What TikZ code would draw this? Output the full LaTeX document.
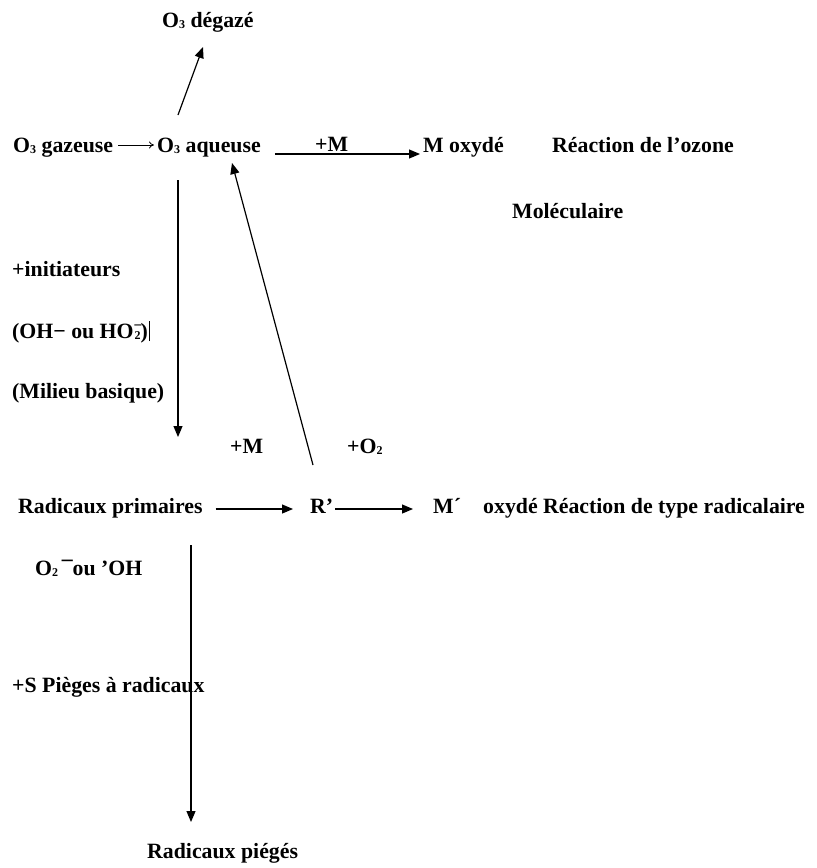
\documentclass[tikz,border=0pt]{standalone}
\usepackage{fontspec}
\setmainfont{Liberation Serif}
\usetikzlibrary{arrows.meta}
\newcommand\sbs[1]{\raisebox{-1.5pt}{\fontsize{12}{12}\selectfont #1}}
\begin{document}
\begin{tikzpicture}[x=1pt,y=-1pt,
  lbl/.style={inner sep=0pt,anchor=base west,font=\fontsize{21.8}{24}\selectfont\bfseries},
  arr/.style={line width=1.2pt,-{Triangle[length=11pt,width=9pt]}},
  thinarr/.style={line width=0.8pt,-{To[length=5pt,width=7pt]}}]
\useasboundingbox[fill=white] (0,0) rectangle (817,868);
% nodes
\node[lbl] (deg) at (162,27) {O\sbs{3} dégazé};
\node[lbl] (gaz) at (13,152) {O\sbs{3} gazeuse};
\node[lbl] (aq) at (157,152) {O\sbs{3} aqueuse};
\node[lbl] (pm1) at (315,151) {+M};
\node[lbl] (mox) at (423,152) {M oxydé};
\node[lbl] (roz) at (552,152) {Réaction de l'ozone};
\node[lbl] (mol) at (512,218) {Moléculaire};
\node[lbl] (init) at (12,276) {+initiateurs};
\node[lbl] (oh) at (12,338) {(OH− ou HO\rlap{\textsuperscript{−}}\sbs{\kern1pt 2})\hspace{1pt}\rule[-3pt]{0.9pt}{20pt}};
\node[lbl] (mil) at (12,398) {(Milieu basique)};
\node[lbl] (pm2) at (230,453) {+M};
\node[lbl] (po2) at (347,453) {+O\sbs{2}};
\node[lbl] (rp) at (18,513) {Radicaux primaires};
\node[lbl] (R) at (310,513) {R’};
\node[lbl] (mrad) at (433,513) {M´};
\node[lbl] (oxr) at (483,513) {oxydé Réaction de type radicalaire};
\node[lbl] (o2) at (35,575) {O\sbs{2}\,\raisebox{-1pt}{¯}ou ’OH};
\node[lbl] (pieg) at (12,692) {+S Pièges à radicaux};
\node[lbl] (rpg) at (147,858) {Radicaux piégés};
% connectors
\draw[thinarr] ([shift={(5,-7)}]gaz.base east) -- ([shift={(-3,-7)}]aq.base west);
\draw[arr] ([shift={(21,-37)}]aq.base west) -- ([shift={(41,20)}]deg.base west);
\draw[arr] ([shift={(14,2)}]aq.base east) -- ([shift={(-3,2)}]mox.base west);
\draw[arr] ([shift={(21,28)}]aq.base west) -- ([shift={(160,-76)}]rp.base west);
\draw[arr] ([shift={(3,-48)}]R.base west) -- ([shift={(75,11)}]aq.base west);
\draw[arr] ([shift={(13,-4)}]rp.base east) -- ([shift={(-17,-4)}]R.base west);
\draw[arr] ([shift={(2,-4)}]R.base east) -- ([shift={(-20,-4)}]mrad.base west);
\draw[arr] ([shift={(173,32)}]rp.base west) -- ([shift={(44,-36)}]rpg.base west);
\end{tikzpicture}
\end{document}
